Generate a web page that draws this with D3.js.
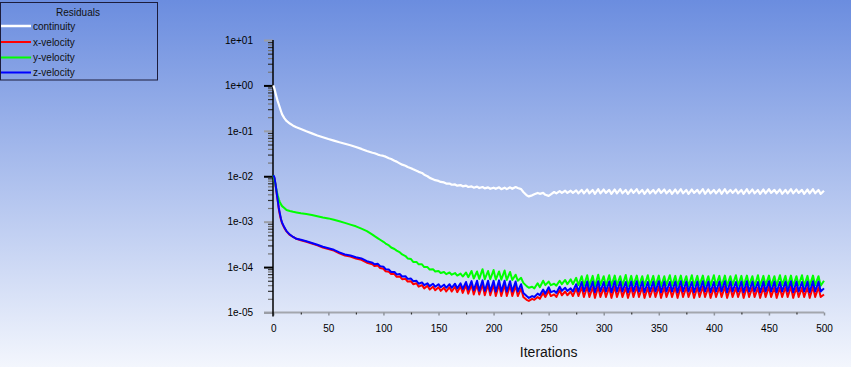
<!DOCTYPE html>
<html><head><meta charset="utf-8">
<script src="https://cdn.jsdelivr.net/npm/d3@7"></script>
<style>html,body{margin:0;padding:0;overflow:hidden;background:#fff}svg{display:block}</style>
</head><body>
<script>
// ---------- DATA ----------
const seriesNames = ["continuity", "x-velocity", "y-velocity", "z-velocity"];
const seriesColors = ["#ffffff", "#ff0000", "#00ff00", "#0000ff"];
const legendTitle = "Residuals";
const xLabel = "Iterations";
const xTickValues = [0, 50, 100, 150, 200, 250, 300, 350, 400, 450, 500];
const yTickValues = [1e-5, 1e-4, 1e-3, 1e-2, 1e-1, 1, 10];
const yTickLabels = ["1e-05", "1e-04", "1e-03", "1e-02", "1e-01", "1e+00", "1e+01"];

const iterations = [
  0,1,2,3,4,5,6,7,8,10,12,15,18,21,25,30,35,40,45,50,55,60,65,70,75,80,85,
  90,92,95,97,100,102,105,107,110,112,115,117,120,122,125,127,130,132,135,137,
  140,142,145,147,150,152,155,157,160,162,165,167,170,172,175,177,180,182,185,187,
  190,192,195,197,200,202,205,207,210,212,215,217,220,222,225,227,230,232,235,237,
  240,242,245,247,250,252,255,257,260,262,265,267,270,272,275,277,280,282,285,287,
  290,292,295,297,300,302,305,307,310,312,315,317,320,322,325,327,330,332,335,337,
  340,342,345,347,350,352,355,357,360,362,365,367,370,372,375,377,380,382,385,387,
  390,392,395,397,400,402,405,407,410,412,415,417,420,422,425,427,430,432,435,437,
  440,442,445,447,450,452,455,457,460,462,465,467,470,472,475,477,480,482,485,487,
  490,492,495,497,500
];

const continuity = [
  1.0,0.85,0.68,0.55,0.45,0.38,0.32,0.27,0.23,0.19,0.165,0.145,0.13,0.12,0.11,0.098,0.088,0.079,0.072,0.066,0.061,0.056,0.052,0.048,0.044,0.040,0.036,
  0.033,0.032,0.030,0.029,0.028,0.027,0.025,0.024,0.022,0.021,0.019,0.018,0.017,0.016,0.015,0.0142,0.0132,0.0125,0.0118,0.0108,
  0.0100,0.0092,0.0086,0.0082,0.0079,0.0075,0.0073,0.0069,0.0069,0.0065,0.0066,0.0062,0.0064,0.0060,0.0062,0.0058,0.0060,0.0056,0.0059,0.0055,
  0.0058,0.0054,0.0057,0.0053,0.0056,0.0053,0.0057,0.0052,0.0056,0.0052,0.0057,0.0053,0.0058,0.0055,0.0052,0.0045,0.0038,0.0036,0.0038,0.0040,
  0.0043,0.0041,0.0043,0.0039,0.0037,0.0040,0.0045,0.0042,0.0047,0.0043,0.0048,0.0043,0.0048,0.0043,0.0049,0.0042,0.0050,0.0042,0.0051,0.0042,
  0.0050,0.0041,0.0052,0.0042,0.0051,0.0043,0.0050,0.0041,0.0051,0.0042,0.0052,0.0042,0.0050,0.0041,0.0051,0.0043,0.0052,0.0042,0.0050,0.0041,
  0.0051,0.0042,0.0050,0.0042,0.0052,0.0043,0.0051,0.0042,0.0050,0.0041,0.0051,0.0042,0.0052,0.0042,0.0050,0.0041,0.0051,0.0043,0.0050,0.0042,
  0.0052,0.0041,0.0051,0.0042,0.0050,0.0042,0.0051,0.0041,0.0052,0.0042,0.0050,0.0043,0.0051,0.0042,0.0050,0.0041,0.0052,0.0042,0.0051,0.0042,
  0.0050,0.0041,0.0051,0.0042,0.0052,0.0043,0.0050,0.0042,0.0051,0.0041,0.0050,0.0042,0.0052,0.0042,0.0051,0.0043,0.0050,0.0041,0.0051,0.0042,
  0.0052,0.0042,0.0050,0.0041,0.0048
];

const xVelocity = [
  0.0100,0.0090,0.0065,0.0043,0.0029,0.0019,0.0014,0.0011,0.00092,0.00073,0.00061,0.00051,0.00046,0.00042,0.00039,0.00036,0.00033,0.00030,0.00027,0.00025,0.00023,0.00020,0.00018,0.00017,0.000155,0.000145,0.000125,
  1.15e-4,1.05e-4,1.08e-4,9.5e-5,9.2e-5,8.1e-5,7.9e-5,7.0e-5,7.0e-5,6.1e-5,6.2e-5,5.4e-5,5.5e-5,4.8e-5,4.9e-5,4.2e-5,4.4e-5,3.7e-5,4.0e-5,3.4e-5,
  3.9e-5,3.2e-5,3.7e-5,3.1e-5,3.6e-5,3.0e-5,3.5e-5,2.9e-5,3.6e-5,2.9e-5,3.7e-5,2.8e-5,3.8e-5,2.7e-5,4.0e-5,2.6e-5,4.1e-5,2.5e-5,4.1e-5,2.5e-5,
  4.2e-5,2.4e-5,4.1e-5,2.4e-5,4.1e-5,2.3e-5,4.2e-5,2.3e-5,4.1e-5,2.3e-5,4.0e-5,2.3e-5,3.9e-5,2.3e-5,3.4e-5,2.2e-5,1.9e-5,1.8e-5,2.0e-5,1.9e-5,
  2.2e-5,2.0e-5,2.7e-5,2.2e-5,3.0e-5,2.3e-5,2.5e-5,2.2e-5,3.1e-5,2.4e-5,2.9e-5,2.4e-5,2.9e-5,2.3e-5,3.4e-5,2.3e-5,3.6e-5,2.2e-5,3.7e-5,2.2e-5,
  3.6e-5,2.1e-5,3.7e-5,2.2e-5,3.5e-5,2.2e-5,3.6e-5,2.1e-5,3.7e-5,2.2e-5,3.6e-5,2.2e-5,3.5e-5,2.1e-5,3.6e-5,2.2e-5,3.7e-5,2.2e-5,3.6e-5,2.1e-5,
  3.5e-5,2.2e-5,3.6e-5,2.2e-5,3.7e-5,2.1e-5,3.6e-5,2.2e-5,3.5e-5,2.2e-5,3.6e-5,2.1e-5,3.7e-5,2.2e-5,3.6e-5,2.2e-5,3.5e-5,2.1e-5,3.6e-5,2.2e-5,
  3.7e-5,2.2e-5,3.6e-5,2.1e-5,3.5e-5,2.2e-5,3.6e-5,2.2e-5,3.7e-5,2.1e-5,3.6e-5,2.2e-5,3.5e-5,2.2e-5,3.6e-5,2.1e-5,3.7e-5,2.2e-5,3.6e-5,2.2e-5,
  3.5e-5,2.1e-5,3.6e-5,2.2e-5,3.7e-5,2.2e-5,3.6e-5,2.1e-5,3.5e-5,2.2e-5,3.6e-5,2.2e-5,3.7e-5,2.1e-5,3.6e-5,2.2e-5,3.5e-5,2.2e-5,3.6e-5,2.1e-5,
  3.7e-5,2.2e-5,3.6e-5,2.2e-5,2.5e-5
];

const yVelocity = [
  0.0105,0.0085,0.0065,0.0048,0.0038,0.0031,0.0027,0.0024,0.0022,0.0020,0.0018,0.00172,0.00165,0.0016,0.00153,0.00147,0.0014,0.00132,0.00124,0.00118,0.0011,0.00102,0.00094,0.00086,0.00079,0.00070,0.00062,
  5.2e-4,4.8e-4,4.3e-4,4.0e-4,3.6e-4,3.3e-4,3.0e-4,2.7e-4,2.5e-4,2.3e-4,2.1e-4,1.9e-4,1.75e-4,1.55e-4,1.5e-4,1.3e-4,1.3e-4,1.15e-4,1.15e-4,1.0e-4,
  1.0e-4,8.8e-5,9.0e-5,8.0e-5,8.2e-5,7.4e-5,7.8e-5,7.0e-5,7.6e-5,6.8e-5,7.4e-5,6.5e-5,7.2e-5,6.2e-5,7.6e-5,6.0e-5,8.2e-5,5.6e-5,8.0e-5,5.5e-5,
  9.0e-5,5.4e-5,8.2e-5,5.4e-5,8.6e-5,5.3e-5,8.0e-5,5.3e-5,8.4e-5,5.2e-5,7.8e-5,5.2e-5,6.8e-5,5.0e-5,5.8e-5,4.5e-5,3.8e-5,3.5e-5,3.7e-5,3.4e-5,
  4.4e-5,3.6e-5,5.0e-5,4.0e-5,4.8e-5,4.0e-5,4.3e-5,3.9e-5,5.0e-5,4.2e-5,5.2e-5,4.2e-5,5.4e-5,4.2e-5,5.8e-5,4.0e-5,6.3e-5,3.9e-5,6.6e-5,3.9e-5,
  6.4e-5,3.8e-5,6.8e-5,4.0e-5,6.3e-5,3.9e-5,6.6e-5,3.9e-5,6.5e-5,4.0e-5,6.3e-5,3.9e-5,6.7e-5,3.8e-5,6.4e-5,4.0e-5,6.5e-5,3.9e-5,6.3e-5,3.9e-5,
  6.6e-5,4.0e-5,6.4e-5,3.9e-5,6.5e-5,3.8e-5,6.3e-5,4.0e-5,6.6e-5,3.9e-5,6.4e-5,3.9e-5,6.5e-5,4.0e-5,6.3e-5,3.8e-5,6.6e-5,3.9e-5,6.4e-5,4.0e-5,
  6.5e-5,3.9e-5,6.3e-5,3.9e-5,6.6e-5,4.0e-5,6.4e-5,3.8e-5,6.5e-5,3.9e-5,6.3e-5,4.0e-5,6.6e-5,3.9e-5,6.4e-5,3.9e-5,6.5e-5,4.0e-5,6.3e-5,3.8e-5,
  6.6e-5,3.9e-5,6.4e-5,4.0e-5,6.5e-5,3.9e-5,6.3e-5,3.9e-5,6.6e-5,4.0e-5,6.4e-5,3.8e-5,6.5e-5,3.9e-5,6.3e-5,4.0e-5,6.6e-5,3.9e-5,6.4e-5,3.9e-5,
  6.5e-5,4.0e-5,6.3e-5,3.9e-5,5.0e-5
];

const zVelocity = [
  0.0105,0.0095,0.0068,0.0045,0.0030,0.0020,0.0015,0.00115,0.00095,0.00075,0.00062,0.00052,0.00046,0.00042,0.00040,0.00037,0.00034,0.00031,0.00028,0.00026,0.00024,0.00021,0.00019,0.00018,0.000165,0.000155,0.000135,
  1.25e-4,1.15e-4,1.18e-4,1.05e-4,1.02e-4,9.0e-5,8.8e-5,7.8e-5,7.8e-5,6.9e-5,7.0e-5,6.2e-5,6.3e-5,5.5e-5,5.6e-5,4.9e-5,5.0e-5,4.3e-5,4.6e-5,4.0e-5,
  4.4e-5,3.8e-5,4.3e-5,3.7e-5,4.2e-5,3.6e-5,4.1e-5,3.5e-5,4.2e-5,3.5e-5,4.3e-5,3.4e-5,4.4e-5,3.3e-5,4.7e-5,3.2e-5,4.9e-5,3.1e-5,5.0e-5,3.0e-5,
  5.1e-5,3.0e-5,5.0e-5,2.9e-5,5.0e-5,2.9e-5,5.1e-5,2.9e-5,5.0e-5,2.9e-5,4.9e-5,2.9e-5,4.8e-5,2.9e-5,4.2e-5,2.7e-5,2.3e-5,2.1e-5,2.3e-5,2.2e-5,
  2.6e-5,2.4e-5,3.2e-5,2.6e-5,3.6e-5,2.8e-5,3.0e-5,2.7e-5,3.7e-5,3.0e-5,3.5e-5,3.0e-5,3.4e-5,2.9e-5,4.2e-5,2.9e-5,4.7e-5,2.9e-5,4.8e-5,2.9e-5,
  4.8e-5,2.8e-5,4.9e-5,2.9e-5,4.7e-5,2.9e-5,4.8e-5,2.8e-5,4.9e-5,2.9e-5,4.8e-5,2.9e-5,4.7e-5,2.8e-5,4.8e-5,2.9e-5,4.9e-5,2.9e-5,4.8e-5,2.8e-5,
  4.7e-5,2.9e-5,4.8e-5,2.9e-5,4.9e-5,2.8e-5,4.8e-5,2.9e-5,4.7e-5,2.9e-5,4.8e-5,2.8e-5,4.9e-5,2.9e-5,4.8e-5,2.9e-5,4.7e-5,2.8e-5,4.8e-5,2.9e-5,
  4.9e-5,2.9e-5,4.8e-5,2.8e-5,4.7e-5,2.9e-5,4.8e-5,2.9e-5,4.9e-5,2.8e-5,4.8e-5,2.9e-5,4.7e-5,2.9e-5,4.8e-5,2.8e-5,4.9e-5,2.9e-5,4.8e-5,2.9e-5,
  4.7e-5,2.8e-5,4.8e-5,2.9e-5,4.9e-5,2.9e-5,4.8e-5,2.8e-5,4.7e-5,2.9e-5,4.8e-5,2.9e-5,4.9e-5,2.8e-5,4.8e-5,2.9e-5,4.7e-5,2.9e-5,4.8e-5,2.8e-5,
  4.9e-5,2.9e-5,4.8e-5,2.9e-5,3.4e-5
];

const seriesValues = [continuity, xVelocity, yVelocity, zVelocity];

// ---------- DRAW ----------
const W = 851, H = 367;
const svg = d3.select("body").append("svg").attr("width", W).attr("height", H)
  .style("font-family", "'Liberation Sans', Arial, sans-serif");

const defs = svg.append("defs");
const grad = defs.append("linearGradient").attr("id", "bg").attr("x1", 0).attr("y1", 0).attr("x2", 0).attr("y2", 1);
grad.append("stop").attr("offset", "0%").attr("stop-color", "#6b8ddf");
grad.append("stop").attr("offset", "100%").attr("stop-color", "#f3f6fd");
svg.append("rect").attr("width", W).attr("height", H).attr("fill", "url(#bg)");

const x = d3.scaleLinear().domain([0, 500]).range([273.3, 824]);
const y = d3.scaleLog().domain([1e-5, 10]).range([312.5, 40]);

// x axis line (gray)
svg.append("line").attr("x1", 264).attr("x2", x(500)).attr("y1", y(1e-5)).attr("y2", y(1e-5))
  .attr("stroke", "#a3a6ad").attr("stroke-width", 2);

// x axis minor ticks
const xMinor = [25, 75, 125, 175, 225, 275, 325, 375, 425, 475];
const xMinorAxis = svg.append("g").attr("transform", `translate(0,${y(1e-5)})`)
  .call(d3.axisBottom(x).tickValues(xMinor).tickSize(2).tickFormat(""));
xMinorAxis.select(".domain").remove();
xMinorAxis.selectAll(".tick line").attr("stroke", "#333").attr("stroke-width", 1.2);

// x axis major ticks + labels
const xAxis = svg.append("g").attr("transform", `translate(0,${y(1e-5)})`)
  .call(d3.axisBottom(x).tickValues(xTickValues).tickSize(3).tickPadding(9).tickFormat(d3.format("d")));
xAxis.select(".domain").remove();
xAxis.selectAll(".tick line").attr("stroke", "#8f939b").attr("stroke-width", 1.5);
xAxis.selectAll(".tick text").attr("fill", "#000").style("font-size", "10px")
  .style("font-family", "'Liberation Sans', Arial, sans-serif");

// y axis minor ticks
const yMinor = [];
for (let e = -5; e < 1; e++) for (let m = 2; m <= 9; m++) yMinor.push(m * Math.pow(10, e));
const yMinorAxis = svg.append("g").attr("transform", "translate(273,0)")
  .call(d3.axisLeft(y).tickValues(yMinor).tickSize(5).tickFormat(""));
yMinorAxis.select(".domain").remove();
yMinorAxis.selectAll(".tick line").attr("stroke", (d, i) => (i % 2 ? "#333" : "#777")).attr("stroke-width", 1.2);

// y axis major ticks + labels
const yAxis = svg.append("g").attr("transform", "translate(273,0)")
  .call(d3.axisLeft(y).tickValues(yTickValues).tickSize(9).tickPadding(11)
    .tickFormat((d, i) => yTickLabels[i]));
yAxis.select(".domain").remove();
yAxis.selectAll(".tick line").attr("stroke", (d, i) => (i % 2 ? "#000" : "#9a9da5")).attr("stroke-width", 2);
yAxis.selectAll(".tick text").attr("fill", "#000").style("font-size", "10px")
  .style("font-family", "'Liberation Sans', Arial, sans-serif");

// y axis line (black)
svg.append("line").attr("x1", 273).attr("x2", 273).attr("y1", y(10)).attr("y2", 316.5)
  .attr("stroke", "#000").attr("stroke-width", 1.5);

// x axis title
svg.append("text").attr("x", (x(0) + x(500)) / 2).attr("y", 357).attr("text-anchor", "middle")
  .style("font-size", "14px").attr("fill", "#111").text(xLabel);

// series lines
const line = d3.line().x(d => x(d[0])).y(d => y(d[1]));
seriesValues.forEach((vals, s) => {
  const n = Math.min(vals.length, iterations.length);
  const pts = [];
  for (let i = 0; i < n; i++) pts.push([iterations[i], vals[i]]);
  svg.append("path").datum(pts).attr("d", line).attr("fill", "none")
    .attr("stroke", seriesColors[s]).attr("stroke-width", s === 0 ? 2.2 : 2)
    .attr("stroke-linejoin", "round");
});

// legend
const lg = svg.append("g");
lg.append("rect").attr("x", 0.5).attr("y", 2.5).attr("width", 157).attr("height", 77.5)
  .attr("fill", "none").attr("stroke", "#1c1c3c").attr("stroke-width", 1);
lg.append("text").attr("x", 78).attr("y", 15.5).attr("text-anchor", "middle")
  .style("font-size", "10px").attr("fill", "#111").text(legendTitle);
const legendY = [26, 42, 57.5, 72.5];
seriesNames.forEach((name, i) => {
  lg.append("line").attr("x1", 1).attr("x2", 31).attr("y1", legendY[i]).attr("y2", legendY[i])
    .attr("stroke", seriesColors[i]).attr("stroke-width", i === 0 ? 2.5 : 2);
  lg.append("text").attr("x", 33).attr("y", legendY[i] + 3.5)
    .style("font-size", "10px").attr("fill", "#111").text(name);
});
</script>
</body></html>
